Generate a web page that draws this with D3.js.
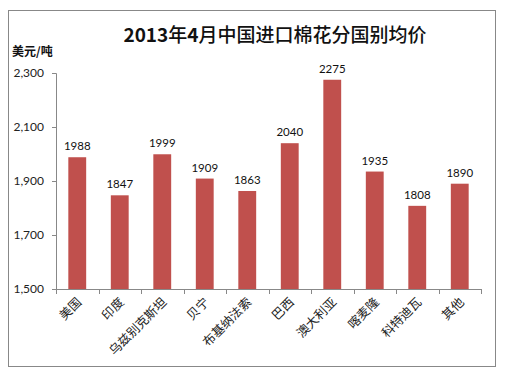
<!DOCTYPE html>
<html><head><meta charset="utf-8">
<script src="https://cdn.jsdelivr.net/npm/d3@7"></script>
<style>body{margin:0;background:#fff;}svg{display:block;}</style>
</head><body>
<svg id="c" width="515" height="382"></svg>
<script>
const categories = ["美国","印度","乌兹别克斯坦","贝宁","布基纳法索","巴西","澳大利亚","喀麦隆","科特迪瓦","其他"];
const values = [1988,1847,1999,1909,1863,2040,2275,1935,1808,1890];
const yTicks = [1500,1700,1900,2100,2300];
const titleParts = [["2013",true],["年",false],["4",true],["月中国进口棉花分国别均价",false]];
const unit = "美元/吨";

(function(){
const svg = d3.select("#c");
svg.append("rect").attr("x",8.5).attr("y",10.5).attr("width",487).attr("height",356)
  .attr("fill","#fff").attr("stroke","#888").attr("stroke-width",1);

const pL=56, pR=481, pT=73, pB=289;
const x = d3.scaleBand().domain(categories).range([pL,pR]).paddingInner(0.58).paddingOuter(0.29);
const xb = d3.scaleBand().domain(categories).range([pL,pR]);
const y = d3.scaleLinear().domain([1500,2300]).range([pB,pT]);

const t = svg.append("text").attr("x",275).attr("y",42).attr("text-anchor","middle")
  .attr("font-family","'Noto Sans CJK SC'").attr("font-size",19).attr("fill","#111");
t.selectAll("tspan").data(titleParts).join("tspan")
  .attr("font-weight",d=>d[1]?"bold":"500").text(d=>d[0]);
svg.append("text").attr("x",12).attr("y",56)
  .attr("font-family","'Noto Sans CJK SC'").attr("font-weight","bold").attr("font-size",12)
  .attr("fill","#111").text(unit);

// y axis
const ya = svg.append("g").attr("transform",`translate(${pL},0)`)
  .call(d3.axisLeft(y).tickValues(yTicks).tickSize(4).tickPadding(8).tickFormat(d3.format(",")));
ya.select(".domain").attr("stroke","#888").attr("d",`M-4,${pT+0.5}H0.5V${pB+0.5}`);
ya.selectAll(".tick line").attr("stroke","#888");
ya.selectAll("text").attr("font-family","Lato, 'Open Sans', sans-serif").attr("font-size",12).attr("fill","#222");

// x axis
const xa = svg.append("g").attr("transform",`translate(0,${pB})`);
xa.append("line").attr("x1",pL).attr("x2",pR+0.5).attr("y1",0.5).attr("y2",0.5).attr("stroke","#888");
const bounds = categories.map(c=>xb(c)).concat([pR]);
xa.selectAll("line.t").data(bounds).join("line").attr("class","t")
  .attr("x1",d=>Math.round(d)+0.5).attr("x2",d=>Math.round(d)+0.5).attr("y1",0).attr("y2",5).attr("stroke","#888");

// bars
svg.selectAll("rect.bar").data(values).join("rect").attr("class","bar")
  .attr("x",(d,i)=>x(categories[i])).attr("width",x.bandwidth())
  .attr("y",d=>y(d)).attr("height",d=>pB-y(d)).attr("fill","#C0504D");

// value labels
svg.selectAll("text.val").data(values).join("text").attr("class","val")
  .attr("x",(d,i)=>x(categories[i])+x.bandwidth()/2).attr("y",d=>y(d)-7)
  .attr("text-anchor","middle").attr("font-family","Lato, 'Open Sans', sans-serif").attr("font-size",11.5)
  .attr("fill","#111").text(d=>d);

// category labels
svg.selectAll("text.cat").data(categories).join("text").attr("class","cat")
  .attr("transform",c=>`translate(${xb(c)+xb.bandwidth()/2+5},${pB+14}) rotate(-45)`)
  .attr("text-anchor","end").attr("font-family","'Noto Sans CJK SC'").attr("font-size",12.5)
  .attr("fill","#222").text(c=>c);
})();
</script>
</body></html>
